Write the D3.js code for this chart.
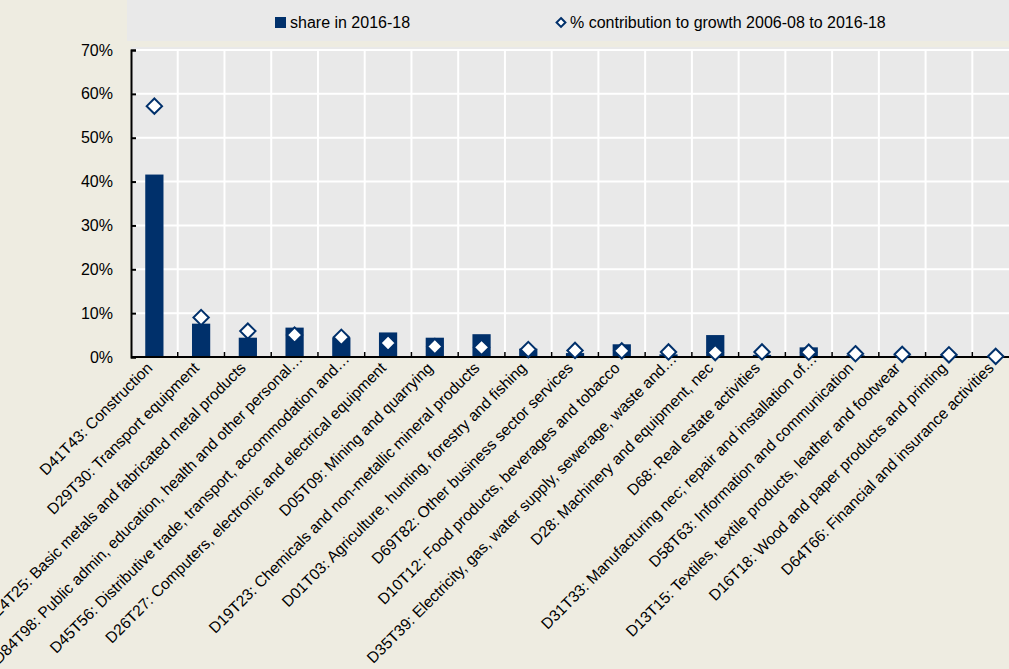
<!DOCTYPE html>
<html>
<head>
<meta charset="utf-8">
<script src="https://cdn.jsdelivr.net/npm/d3@7"></script>
<style>
  body { margin: 0; background: #EEECE1; }
  svg { display: block; font-family: "Liberation Sans", Arial, sans-serif; }
</style>
</head>
<body>
<svg id="chart" width="1009" height="669"></svg>
<script>
// industries, in chart order
const sectors = [
    "D41T43: Construction",
    "D29T30: Transport equipment",
    "D24T25: Basic metals and fabricated metal products",
    "D84T98: Public admin, education, health and other personal…",
    "D45T56: Distributive trade, transport, accommodation and…",
    "D26T27: Computers, electronic and electrical equipment",
    "D05T09: Mining and quarrying",
    "D19T23: Chemicals and non-metallic mineral products",
    "D01T03: Agriculture, hunting, forestry and fishing",
    "D69T82: Other business sector services",
    "D10T12: Food products, beverages and tobacco",
    "D35T39: Electricity, gas, water supply, sewerage, waste and…",
    "D28: Machinery and equipment, nec",
    "D68: Real estate activities",
    "D31T33: Manufacturing nec; repair and installation of…",
    "D58T63: Information and communication",
    "D13T15: Textiles, textile products, leather and footwear",
    "D16T18: Wood and paper products and printing",
    "D64T66: Financial and insurance activities"
];

// share in 2016-18 (%)
const share = [41.6, 7.6, 4.4, 6.7, 4.4, 5.6, 4.4, 5.2, 1.9, 0.9, 2.9, 0.6, 5.0, 0.5, 2.2, 0.4, 0.3, 0.3, 0.1];

// % contribution to growth 2006-08 to 2016-18
const contribution = [57.2, 9.0, 5.9, 5.0, 4.5, 3.2, 2.4, 2.2, 1.7, 1.5, 1.4, 1.15, 1.0, 1.15, 1.1, 0.75, 0.6, 0.5, 0.15];

const yTicks = [0, 10, 20, 30, 40, 50, 60, 70];

const navy = "#00306B";

const svg = d3.select("#chart");

const margin = { left: 131, top: 50, bottom: 357 };
const bandW = 46.74;
const plotRight = margin.left + bandW * sectors.length;

const x = d3.scaleBand()
    .domain(sectors)
    .range([margin.left, plotRight]);

const y = d3.scaleLinear()
    .domain([0, 70])
    .range([margin.bottom, margin.top]);

// legend strip
svg.append("rect")
    .attr("x", 127).attr("y", 0)
    .attr("width", 1009 - 127).attr("height", 41)
    .attr("fill", "#E9E9E9");

// plot background
svg.append("rect")
    .attr("x", margin.left).attr("y", 47)
    .attr("width", plotRight - margin.left).attr("height", margin.bottom - 47)
    .attr("fill", "#E9E9E9");

// horizontal gridlines
svg.append("g")
    .selectAll("line")
    .data(yTicks.filter(d => d > 0))
    .join("line")
    .attr("x1", margin.left).attr("x2", plotRight)
    .attr("y1", d => y(d)).attr("y2", d => y(d))
    .attr("stroke", "#fff").attr("stroke-width", 2);

// vertical gridlines at band edges
svg.append("g")
    .selectAll("line")
    .data(sectors.slice(1))
    .join("line")
    .attr("x1", d => x(d)).attr("x2", d => x(d))
    .attr("y1", margin.top).attr("y2", margin.bottom)
    .attr("stroke", "#fff").attr("stroke-width", 2);

// bars
const barW = bandW * 0.39;
svg.append("g")
    .selectAll("rect")
    .data(sectors)
    .join("rect")
    .attr("x", d => x(d) + (bandW - barW) / 2)
    .attr("y", (d, i) => y(share[i]))
    .attr("width", barW)
    .attr("height", (d, i) => y(0) - y(share[i]))
    .attr("fill", navy);

// y axis
const yAxis = d3.axisLeft(y)
    .tickValues(yTicks)
    .tickSize(-5)
    .tickPadding(18)
    .tickFormat(d => d + "%");

const gy = svg.append("g")
    .attr("transform", `translate(${margin.left},0)`)
    .call(yAxis);
gy.select(".domain").attr("stroke", "#000").attr("stroke-width", 2);
gy.selectAll(".tick line").attr("stroke", "#000").attr("stroke-width", 2);
gy.selectAll(".tick text")
    .attr("font-size", 16)
    .attr("font-family", "Liberation Sans, Arial, sans-serif")
    .attr("fill", "#000");

// x axis line and ticks between bands
svg.append("line")
    .attr("x1", margin.left).attr("x2", plotRight)
    .attr("y1", y(0)).attr("y2", y(0))
    .attr("stroke", "#000").attr("stroke-width", 2);

svg.append("g")
    .selectAll("line")
    .data(sectors.slice(1))
    .join("line")
    .attr("x1", d => x(d)).attr("x2", d => x(d))
    .attr("y1", y(0)).attr("y2", y(0) - 5)
    .attr("stroke", "#000").attr("stroke-width", 1.5);

// diamonds
const diamond = d3.symbol().type(d3.symbolDiamond2).size(150);
svg.append("g")
    .selectAll("path")
    .data(sectors)
    .join("path")
    .attr("d", diamond)
    .attr("transform", (d, i) => `translate(${x(d) + bandW / 2},${y(contribution[i])})`)
    .attr("fill", "#fff")
    .attr("stroke", navy)
    .attr("stroke-width", 2);

// rotated category labels (truncated ones sit a little further out)
svg.append("g")
    .selectAll("text")
    .data(sectors)
    .join("text")
    .attr("transform", d => {
        const cut = d.endsWith("…");
        const px = x(d) + bandW / 2 + (cut ? 9 : -1);
        const py = cut ? 360 : 369;
        return `translate(${px},${py}) rotate(-45)`;
    })
    .attr("text-anchor", "end")
    .attr("font-size", 15.6)
    .attr("fill", "#000")
    .text(d => d);

// legend
const legend = svg.append("g").attr("font-size", 16).attr("fill", "#000");
legend.append("rect")
    .attr("x", 275).attr("y", 17)
    .attr("width", 11).attr("height", 11)
    .attr("fill", navy);
legend.append("text")
    .attr("x", 290).attr("y", 28)
    .text("share in 2016-18");
legend.append("path")
    .attr("d", d3.symbol().type(d3.symbolDiamond2).size(50))
    .attr("transform", "translate(561,22.5)")
    .attr("fill", "#fff")
    .attr("stroke", navy)
    .attr("stroke-width", 2);
legend.append("text")
    .attr("x", 570).attr("y", 28)
    .text("% contribution to growth 2006-08 to 2016-18");
</script>
</body>
</html>
